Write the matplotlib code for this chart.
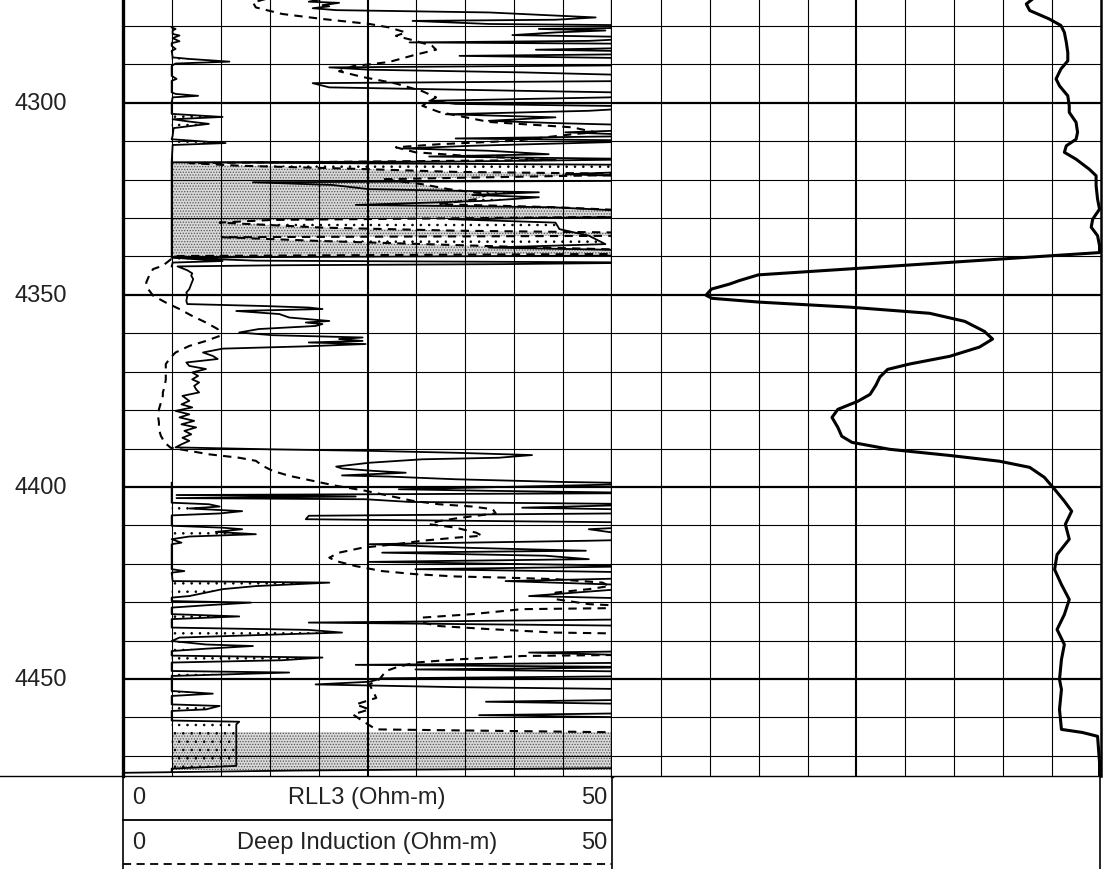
import numpy as np
import matplotlib.pyplot as plt

plt.rcParams['font.family'] = ['Liberation Sans', 'DejaVu Sans']
plt.rcParams['hatch.linewidth'] = 0.6

nan = np.nan

# RLL3, main trace (ft, ohm-m); anything past 50 runs off the track edge
rll3_depth = [4273.0, 4273.7, 4274.0, 4274.6, 4274.9, 4275.4, 4275.9, 4276.5, 4277.8, 4278.4,
              4278.7, 4279.5, 4279.9, 4280.4, 4280.8, 4281.2, 4281.7, 4282.4, 4283.0, 4283.9,
              4284.3, 4284.7, 4285.6, 4286.2, 4286.7, 4287.3, 4287.8, 4288.5, 4290.2, 4290.8,
              4291.4, 4292.1, 4293.0, 4294.3, 4294.9, 4296.0, 4296.9, 4297.5, 4298.6, 4299.5,
              4300.3, 4301.0, 4302.1, 4303.0, 4303.8, 4304.7, 4305.3, 4306.0, 4306.9, 4307.7,
              4308.6, 4309.3, 4309.9, 4311.2, 4311.9, 4312.5, 4313.4, 4314.0, 4314.7, 4315.3,
              4315.5, 4316.2, 4317.7, 4318.6, 4319.4, 4320.3, 4320.7, 4321.4, 4322.5, 4323.3,
              4324.0, 4324.6, 4325.5, 4326.6, 4327.2, 4328.6, 4329.6, 4330.3, 4331.2, 4332.9,
              4334.6, 4336.8, 4337.7, 4338.5, 4339.7, 4340.3, 4341.1, 4341.6, 4342.0, 4342.3,
              4342.6, 4343.6, 4344.4, 4345.0, 4345.9, 4347.2, 4348.5, 4349.4, 4350.2, 4351.6,
              4352.4, 4352.9, 4353.3, 4353.7, 4354.2, 4355.0, 4355.9, 4356.8, 4357.2, 4357.6,
              4358.1, 4358.9, 4359.8, 4360.5, 4361.1, 4361.5, 4362.0, 4362.4, 4362.8, 4363.4,
              4364.0, 4365.0, 4365.9, 4366.7, 4367.6, 4368.5, 4369.3, 4370.2, 4371.1, 4372.0,
              4372.8, 4373.7, 4374.6, 4375.4, 4376.3, 4377.6, 4378.5, 4379.3, 4380.2, 4381.1,
              4381.9, 4382.8, 4383.7, 4384.5, 4385.4, 4386.3, 4387.2, 4388.0, 4388.9, 4389.7,
              4390.2, 4390.6, 4391.1, 4391.7, 4392.4, 4392.8, 4393.7, 4394.7, 4395.2, 4395.8,
              4396.3, 4397.0, 4397.3, 4398.0, 4398.7, 4399.1, 4399.7, 4400.2, 4400.6, 4401.0,
              4401.6, 4402.1, 4402.5, 4402.9, 4403.2, 4403.9, 4404.5, 4405.4, 4406.0, 4406.8,
              4407.5, 4408.4, 4409.3, 4410.1, 4411.0, 4413.6, 4414.0, 4414.9, 4415.8, 4416.6,
              4417.1, 4417.9, 4418.8, 4419.5, 4420.6, 4421.4, 4422.3, 4423.6, 4424.5, 4425.8,
              4428.4, 4429.2, 4431.8, 4434.4, 4435.3, 4436.2, 4437.0, 4439.6, 4441.0, 4442.7,
              4443.1, 4444.0, 4445.7, 4446.3, 4446.9, 4447.5, 4448.1, 4449.2, 4449.8, 4450.7,
              4451.4, 4452.1, 4452.7, 4455.3, 4455.9, 4456.6, 4458.8, 4459.4, 4460.1, 4473.1,
              4473.8, 4474.4]
rll3_val = [20.4, 19.0, 22.1, 20.4, 21.1, 19.4, 21.8, 37.4, 48.3, 44.2,
            29.6, 37.4, 55, 55, 42.5, 49.3, 44.2, 39.8, 55, 47.6,
            29.3, 55, 55, 42.2, 55, 55, 34.4, 55, 55, 21.1,
            25.2, 40.8, 55, 55, 19.4, 21.1, 40.8, 55, 49.7, 31.3,
            34.0, 55, 47.6, 33.0, 44.2, 37.4, 44.2, 55, 55, 45.2,
            55, 34.0, 55, 35.7, 28.6, 37.4, 43.5, 31.3, 55, 34.0,
            5.1, 55, 55, 45.2, 55, 55, 13.3, 21.4, 25.2, 42.5,
            35.7, 42.5, 37.4, 23.8, 43.9, 55, 55, 33.3, 44.2, 44.6,
            47.6, 49.3, 37.4, 55, 55, 5.1, 13.6, 55, 39.0, 16.0,
            5.6, 6.6, 7.1, 7.0, 7.2, 7.0, 6.8, 6.5, 6.6, 6.5,
            6.6, 14.3, 19.0, 20.4, 11.6, 16.0, 17.0, 21.1, 18.7, 20.4,
            19.7, 13.9, 11.9, 15.3, 24.5, 22.1, 24.5, 19.0, 24.8, 18.7,
            10.2, 8.2, 9.2, 9.7, 6.5, 6.8, 8.5, 7.1, 7.7, 7.1,
            7.8, 7.3, 7.5, 7.8, 6.1, 6.8, 6.0, 7.1, 5.4, 6.8,
            5.8, 7.3, 6.0, 7.5, 6.3, 7.0, 6.1, 6.8, 6.0, 5.4,
            15.0, 25.2, 34.0, 41.8, 38.4, 30.6, 25.2, 21.8, 22.4, 25.5,
            28.9, 22.4, 27.2, 34.0, 44.9, 55, 44.2, 35.7, 28.2, 37.4,
            55, 5.5, 23.8, 5.5, 24.8, 29.3, 55, 40.8, 55, 55,
            19.0, 18.7, 55, 55, 47.6, 55, 47.6, 25.2, 34.7, 47.3,
            26.5, 43.2, 47.6, 25.2, 55, 29.9, 55, 55, 39.1, 55,
            41.5, 55, 55, 55, 19.0, 55, 55, 55, 55, 55,
            41.5, 55, 55, 23.8, 55, 29.9, 55, 55, 26.5, 25.2,
            19.7, 34.0, 55, 55, 37.1, 55, 55, 36.4, 55, 55,
            18.0, 0.0]

# backup trace, resting on 5 ohm-m; blank through the shale
bkup_depth = [4280.4, 4280.8, 4281.2, 4282.1, 4282.5, 4283.2, 4284.0, 4284.5, 4285.2, 4286.0,
              4286.5, 4288.2, 4288.6, 4289.3, 4289.8, 4290.4, 4293.0, 4293.8, 4294.3, 4297.3,
              4297.7, 4298.2, 4298.6, 4299.9, 4302.9, 4303.7, 4304.3, 4304.9, 4305.5, 4306.1,
              4306.6, 4308.6, 4309.5, 4310.5, 4311.0, 4315.5, 4340.3, 4341.2, 4341.6, 4342.6,
              4343.0, 4398.9, 4404.1, 4404.5, 4405.1, 4405.6, 4406.3, 4406.9, 4407.4, 4410.1,
              4410.6, 4411.0, 4411.7, 4412.3, 4412.9, 4413.6, 4414.5, 4414.9, 4421.4, 4421.9,
              4422.3, 4424.5, 4424.9, 4425.8, 4426.6, 4428.4, 4428.8, 4429.7, 4430.1, 4430.8,
              4431.4, 4433.1, 4433.7, 4434.4, 4436.6, 4437.2, 4437.9, 4438.3, 4439.2, 4440.1,
              4441.0, 4441.4, 4442.1, 4442.7, 4443.9, 4444.4, 4445.1, 4445.7, 4447.9, 4448.3,
              4449.2, 4453.1, 4453.8, 4454.4, 4456.6, 4457.0, 4457.9, 4458.3, 4460.8, 4461.1,
              4461.8, 4472.6, 4473.3, 4474.0]
bkup_val = [5.0, 5.4, 5.1, 5.1, 5.8, 5.1, 5.8, 5.0, 5.0, 5.4,
            5.0, 5.1, 6.8, 10.9, 5.4, 5.0, 5.0, 5.5, 5.0, 5.0,
            5.4, 7.7, 5.1, 5.0, 5.0, 10.2, 5.1, 6.8, 8.8, 6.8,
            5.2, 5.1, 5.0, 10.5, 5.1, 5.0, 5.0, 10.2, 5.1, 5.0,
            nan, 5.0, 5.0, 8.8, 9.9, 6.8, 12.2, 9.9, 5.0, 5.0,
            10.2, 12.2, 9.5, 13.6, 6.8, 5.0, 6.0, 5.0, 5.0, 6.3,
            5.0, 5.1, 21.1, 13.6, 10.2, 6.8, 5.0, 5.0, 13.1, 8.5,
            5.0, 5.0, 11.9, 5.0, 5.0, 19.0, 22.4, 17.0, 5.8, 5.0,
            8.5, 13.3, 8.5, 5.0, 5.0, 20.4, 16.3, 5.0, 5.0, 17.0,
            5.0, 5.0, 9.2, 5.0, 5.0, 9.9, 8.5, 5.0, 5.0, 11.9,
            11.6, 11.6, 5.0, 5.0]

# deep induction (dashed)
ild_depth = [4273.0, 4273.9, 4275.2, 4276.9, 4278.2, 4279.5, 4280.4, 4281.7, 4282.6, 4283.9,
             4285.2, 4286.2, 4287.5, 4289.4, 4290.5, 4291.8, 4293.3, 4295.0, 4297.0, 4298.6,
             4300.8, 4302.4, 4305.0, 4306.4, 4307.7, 4308.1, 4309.9, 4310.8, 4311.6, 4312.9,
             4313.8, 4314.9, 4315.7, 4316.4, 4317.2, 4318.0, 4318.6, 4319.9, 4321.2, 4322.5,
             4323.8, 4325.1, 4326.4, 4327.2, 4328.4, 4329.6, 4330.5, 4331.2, 4332.5, 4333.3,
             4333.9, 4334.6, 4335.0, 4336.0, 4337.5, 4338.5, 4339.3, 4339.9, 4341.0, 4342.4,
             4343.3, 4345.0, 4346.8, 4348.5, 4350.2, 4352.0, 4353.7, 4355.5, 4357.2, 4358.9,
             4360.7, 4362.0, 4363.3, 4365.0, 4366.3, 4368.0, 4369.8, 4372.0, 4373.7, 4375.4,
             4376.3, 4378.0, 4379.8, 4381.5, 4383.2, 4385.0, 4386.7, 4388.5, 4389.8, 4390.6,
             4391.5, 4392.4, 4393.2, 4394.5, 4395.8, 4397.1, 4398.4, 4399.7, 4401.0, 4402.3,
             4403.6, 4404.5, 4405.1, 4405.8, 4406.9, 4407.5, 4408.2, 4408.9, 4409.7, 4410.6,
             4411.9, 4412.7, 4413.2, 4414.0, 4414.9, 4415.8, 4417.1, 4418.4, 4419.3, 4420.6,
             4421.9, 4422.7, 4423.3, 4423.6, 4424.0, 4424.9, 4425.8, 4426.6, 4427.5, 4429.2,
             4430.5, 4431.4, 4431.8, 4433.1, 4434.0, 4435.3, 4436.2, 4437.0, 4437.9, 4438.3,
             4443.6, 4444.0, 4444.9, 4445.7, 4447.0, 4447.9, 4450.1, 4451.4, 4454.9, 4456.6,
             4457.9, 4459.2, 4460.9, 4462.2, 4463.1, 4464.0, 4474.5]
ild_val = [14.6, 13.3, 13.6, 16.3, 20.4, 25.2, 27.2, 28.9, 27.9, 29.9,
           31.6, 32.0, 29.9, 27.2, 23.5, 22.1, 24.5, 27.9, 30.6, 32.0,
           30.6, 32.3, 37.4, 45.9, 48.3, 46.3, 40.0, 32.3, 27.9, 29.9,
           35.0, 44.2, 6.8, 12.0, 23.8, 34.0, 55, 26.5, 30.6, 33.3,
           37.4, 36.1, 32.3, 44.2, 55, 55, 15.3, 9.9, 20.4, 34.0,
           55, 55, 10.2, 20.4, 40.0, 55, 55, 5.3, 4.8, 4.1,
           3.1, 2.7, 2.4, 2.6, 3.1, 4.4, 5.8, 7.1, 8.5, 9.7,
           9.9, 8.5, 6.8, 5.4, 4.9, 4.4, 4.4, 4.4, 4.3, 4.1,
           4.1, 3.9, 3.7, 3.6, 3.7, 3.7, 3.9, 4.3, 4.9, 6.8,
           8.8, 11.9, 13.6, 14.3, 15.3, 17.0, 19.4, 21.8, 24.8, 27.2,
           29.6, 32.3, 35.7, 37.8, 38.1, 36.1, 34.0, 32.3, 31.3, 34.0,
           36.1, 36.7, 34.0, 30.6, 27.9, 24.5, 22.1, 21.1, 21.8, 23.8,
           26.5, 29.9, 34.0, 39.1, 44.2, 49.0, 49.7, 47.6, 44.2, 44.2,
           47.6, 55, 40.8, 35.7, 30.6, 30.6, 32.3, 37.4, 44.2, 55,
           55, 40.8, 34.0, 29.9, 27.9, 26.9, 26.2, 25.2, 25.9, 23.8,
           25.2, 23.5, 24.5, 25.3, 25.9, 55, 55]

# right-hand track curve, 0-100 across the track
sp_depth = [4273.0, 4274.3, 4276.0, 4278.2, 4279.9, 4281.7, 4284.3, 4286.9, 4289.1, 4291.2,
            4293.8, 4295.6, 4298.2, 4300.8, 4302.5, 4305.1, 4307.7, 4309.5, 4311.2, 4312.9,
            4314.7, 4317.3, 4319.0, 4321.6, 4325.1, 4327.7, 4330.3, 4332.4, 4334.6, 4337.2,
            4339.0, 4344.8, 4346.3, 4347.2, 4348.5, 4350.1, 4350.9, 4351.9, 4353.2, 4354.8,
            4356.9, 4359.5, 4361.5, 4363.6, 4366.0, 4368.0, 4369.4, 4371.4, 4373.5, 4375.9,
            4377.7, 4379.8, 4381.9, 4384.5, 4386.8, 4388.4, 4390.2, 4391.8, 4393.3, 4394.9,
            4397.5, 4400.6, 4403.7, 4406.3, 4409.7, 4413.6, 4417.6, 4421.5, 4425.4, 4429.3,
            4433.2, 4437.1, 4441.0, 4444.9, 4450.1, 4452.7, 4457.9, 4463.1, 4463.9, 4464.9,
            4471.7, 4475.0]
sp_val = [86.1, 84.8, 85.5, 89.5, 91.9, 92.6, 93.0, 93.3, 93.3, 91.9,
          90.9, 91.6, 93.3, 93.6, 93.6, 95.0, 95.3, 95.0, 93.0, 92.6,
          95.0, 97.7, 99.1, 99.1, 99.4, 99.8, 98.4, 98.1, 99.4, 99.8,
          99.8, 29.9, 26.0, 24.0, 20.3, 19.2, 20.4, 30.2, 48.6, 65.0,
          72.2, 76.2, 77.9, 75.2, 69.1, 60.9, 56.4, 54.8, 54.0, 52.8,
          50.3, 46.2, 45.0, 46.2, 47.0, 49.1, 56.8, 69.1, 79.3, 85.5,
          88.5, 90.6, 92.6, 94.1, 92.8, 93.6, 91.1, 90.6, 92.0, 93.6,
          92.6, 91.1, 92.6, 92.0, 91.6, 92.0, 91.6, 92.0, 96.3, 99.4,
          99.8, 99.8]

depth_labels = [4300, 4350, 4400, 4450]
shaded_zones = [(4315.5, 4340.4), (4463.9, 4473.6)]
top, base = 4273.0, 4475.1

W, H = 1103, 870


def box(x0, y0, x1, y1):
    # pixel box -> figure fraction rect
    return [x0 / W, 1 - y1 / H, (x1 - x0) / W, (y1 - y0) / H]


fig = plt.figure(figsize=(W / 100, H / 100), dpi=100)
hdr = fig.add_axes(box(0, 776, W, H))
ax_d = fig.add_axes(box(0, 0, 122.7, 776.5))
ax1 = fig.add_axes(box(122.7, 0, 612.3, 776.5), sharey=ax_d)
ax2 = fig.add_axes(box(612.3, 0, 1100.5, 776.5), sharey=ax_d)

ax_d.set_ylim(base, top)
ax1.set_xlim(0, 50)
ax2.set_xlim(0, 100)

for ax in (ax_d, ax1, ax2):
    ax.set_xticks([])
    ax.set_yticks([])
    ax.spines['top'].set_visible(False)
    ax.spines['bottom'].set_linewidth(1.0)
ax_d.spines['left'].set_visible(False)
ax_d.spines['right'].set_visible(False)
ax1.spines['left'].set_linewidth(2.4)
ax1.spines['right'].set_linewidth(2.4)
ax2.spines['left'].set_visible(False)
ax2.spines['right'].set_linewidth(1.8)

# grid: 10 ft lines, heavier every 50 ft
for ax, step, mid in ((ax1, 5, 25), (ax2, 10, 50)):
    for x in np.arange(step, mid * 2, step):
        ax.axvline(x, color='black', lw=1.5 if x == mid else 0.8, zorder=2)
    for d in range(4280, 4475, 10):
        ax.axhline(d, color='black', lw=1.6 if d % 50 == 0 else 0.8, zorder=2)

for d in depth_labels:
    ax_d.text(0.33, d, str(d), transform=ax_d.get_yaxis_transform(),
              ha='center', va='center', fontsize=17, color='#222222')

# shading on a common depth grid
grid = np.arange(top, base, 0.05)
b_i = np.interp(grid, rll3_depth, rll3_val)
c_i = np.interp(grid, ild_depth, ild_val)
bk_d = np.array(bkup_depth)
bk_v = np.array(bkup_val)
ok = ~np.isnan(bk_v)
a_i = np.interp(grid, bk_d[ok], bk_v[ok])
a_i[(grid > 4343.0) & (grid < 4398.9)] = 5.0
a_i[(grid < 4280.4)] = 5.0

for z0, z1 in shaded_zones:
    m = (grid >= z0) & (grid <= z1)
    right = np.minimum(c_i, 50)
    ax1.fill_betweenx(grid, 5, right, where=m, facecolor='#d8d8d8',
                      edgecolor='#555555', hatch='......', lw=0, zorder=1)
    ax1.fill_betweenx(grid, c_i, np.minimum(b_i, 50), where=m & (b_i > c_i),
                      facecolor='none', edgecolor='black', hatch='..', lw=0, zorder=1)

ax1.fill_betweenx(grid, 5, a_i, where=a_i > 5.3, facecolor='none',
                  edgecolor='black', hatch='..', lw=0, zorder=1)

ax1.plot(rll3_val, rll3_depth, color='black', lw=1.3, zorder=3)
ax1.plot(bkup_val, bkup_depth, color='black', lw=1.3, zorder=3)
ax1.plot(ild_val, ild_depth, color='black', lw=1.5, dashes=(4, 3), zorder=3)
ax2.plot(sp_val, sp_depth, color='black', lw=2.2, zorder=3)

# header block under the first track
hdr.set_xlim(0, W)
hdr.set_ylim(H, 776)
hdr.axis('off')
hdr.plot([0, 1100], [776.5, 776.5], color='black', lw=1.0, clip_on=False)
for x in (122.7, 612.3, 1100):
    hdr.plot([x, x], [776, H], color='black', lw=1.2, clip_on=False)
hdr.plot([122.7, 612.3], [821, 821], color='black', lw=1.3)
hdr.plot([122.7, 612.3], [865.5, 865.5], color='black', lw=1.3, dashes=(4.5, 3))
for y, name in ((798, 'RLL3 (Ohm-m)'), (843, 'Deep Induction (Ohm-m)')):
    hdr.text(132, y, '0', ha='left', va='center', fontsize=17, color='#222222')
    hdr.text(367, y, name, ha='center', va='center', fontsize=17, color='#222222')
    hdr.text(607, y, '50', ha='right', va='center', fontsize=17, color='#222222')

fig.savefig('out.png', dpi=100)
